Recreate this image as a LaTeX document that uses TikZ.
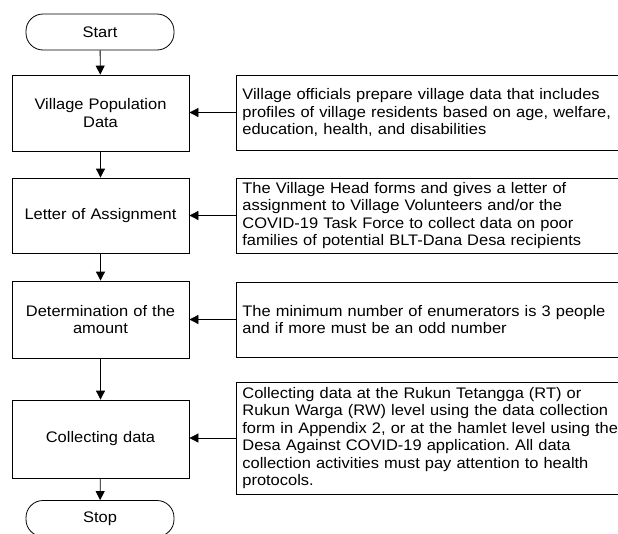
\documentclass[tikz,border=0pt]{standalone}
\usepackage{fontspec}
\setmainfont{Liberation Sans}[FakeStretch=1.075]
\usetikzlibrary{arrows.meta}
\frenchspacing
\begin{document}
\begin{tikzpicture}[x=1pt,y=-1pt,
  every node/.style={font=\fontsize{15.3}{17.4}\selectfont},
  term/.style={draw=black, line width=0.8pt, rounded corners=17pt, minimum width=148pt, minimum height=36pt, inner sep=0pt},
  procbox/.style={draw=black, line width=0.8pt, minimum width=177pt, inner sep=0pt, align=center, text width=170pt},
  notebox/.style={draw=black, line width=0.8pt, inner sep=0pt, align=left, text width=430pt, minimum width=442pt},
  arr/.style={line width=0.8pt, -{Triangle[length=9pt,width=9pt]}}
]
\useasboundingbox (0,0) rectangle (618,533);
\node[term] (start) at (100,32) {Start};
\node[procbox, minimum height=76pt] (p1) at (100.5,113) {Village Population\\Data};
\node[procbox, minimum height=75pt] (p2) at (100.5,215.5) {Letter of Assignment};
\node[procbox, minimum height=77pt] (p3) at (100.5,319.5) {Determination of the\\amount};
\node[procbox, minimum height=78pt] (p4) at (100.5,439) {Collecting data};
\node[term] (stop) at (100,518.5) {Stop};

\node[notebox, minimum height=75pt, anchor=west] (n1) at (236,112.5) {Village officials prepare village data that includes\\profiles of village residents based on age, welfare,\\education, health, and disabilities};
\node[notebox, minimum height=75pt, anchor=west] (n2) at (236,215.5) {The Village Head forms and gives a letter of\\assignment to Village Volunteers and/or the\\COVID-19 Task Force to collect data on poor\\families of potential BLT-Dana Desa recipients};
\node[notebox, minimum height=75pt, anchor=west] (n3) at (236,319.5) {The minimum number of enumerators is 3 people\\and if more must be an odd number};
\node[notebox, minimum height=112pt, anchor=west] (n4) at (236,438) {Collecting data at the Rukun Tetangga (RT) or\\Rukun Warga (RW) level using the data collection\\form in Appendix 2, or at the hamlet level using the\\Desa Against COVID-19 application. All data\\collection activities must pay attention to health\\protocols.};

\draw[arr] (start) -- (p1);
\draw[arr] (p1) -- (p2);
\draw[arr] (p2) -- (p3);
\draw[arr] (p3) -- (p4);
\draw[arr] (p4) -- (stop);
\draw[arr] (n1.west) -- (n1.west -| p1.east);
\draw[arr] (n2.west) -- (n2.west -| p2.east);
\draw[arr] (n3.west) -- (n3.west -| p3.east);
\draw[arr] (n4.west) -- (n4.west -| p4.east);
\end{tikzpicture}
\end{document}
